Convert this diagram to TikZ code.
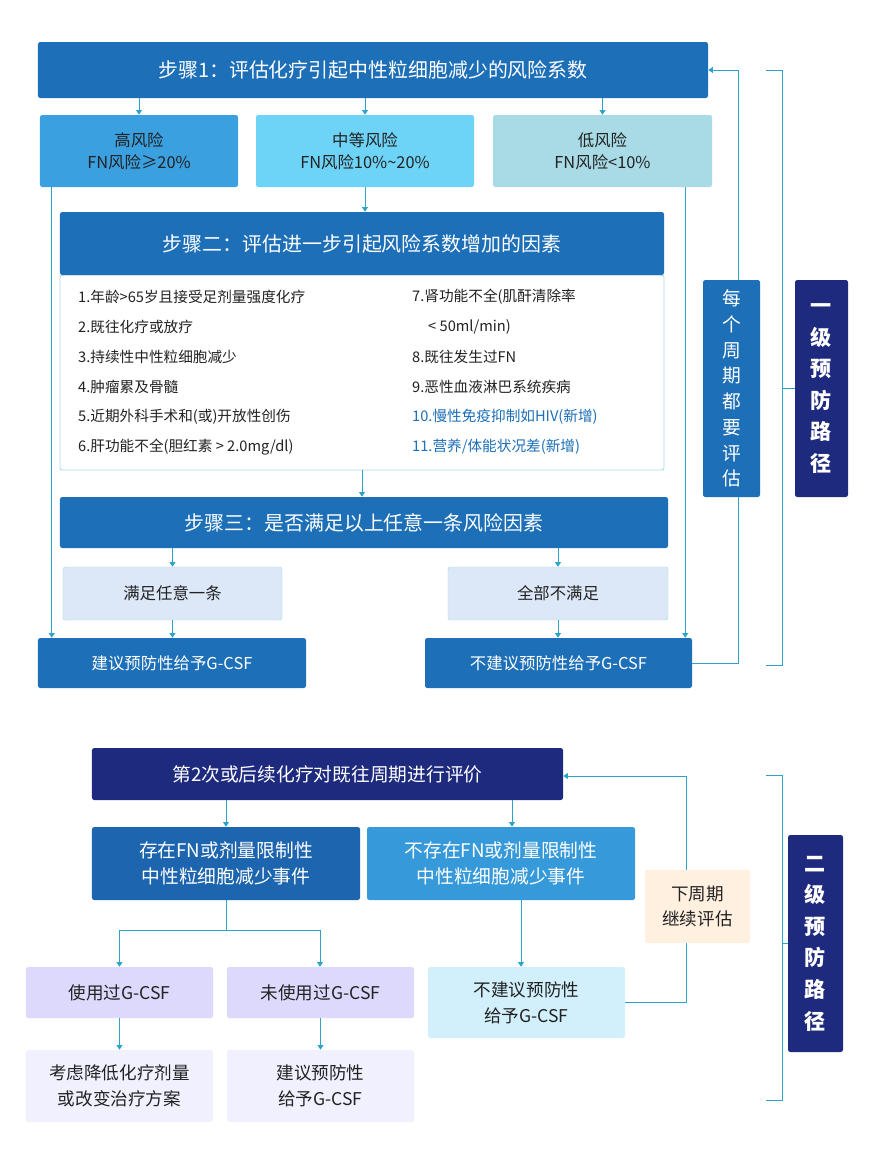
\documentclass[tikz,border=0pt]{standalone}
\usepackage{fontspec}
\setmainfont{Noto Sans CJK SC}
\usetikzlibrary{arrows.meta,positioning}
\definecolor{stepblue}{HTML}{1D6FB8}
\definecolor{highblue}{HTML}{3AA0E0}
\definecolor{midblue}{HTML}{6DD3F7}
\definecolor{lowblue}{HTML}{A8DBE6}
\definecolor{navy}{HTML}{1E2A7E}
\definecolor{linecyan}{HTML}{2AA4C8}
\definecolor{paleblue}{HTML}{DCE8F7}
\definecolor{textblue}{HTML}{1D6FB8}
\definecolor{darktext}{HTML}{222222}
\tikzset{
  box/.style={rounded corners=2pt, inner sep=0pt, align=center},
  darkbox/.style={box, fill=stepblue, text=white},
  arr/.style={draw=linecyan, line width=0.8pt, -{Triangle[width=5pt,length=4pt]}},
  fline/.style={draw=linecyan, line width=0.8pt},
  item/.style={anchor=west, inner sep=0pt, font=\fontsize{12.5pt}{14pt}\selectfont, text=darktext},
}
\begin{document}
\begin{tikzpicture}[x=0.3mm, y=-0.3mm]
  \useasboundingbox[fill=white] (0,0) rectangle (870,1151);

  % First level: step 1 and risk groups
  \node[darkbox, minimum width=201mm, minimum height=16.8mm, font=\fontsize{17pt}{20pt}\selectfont] (step1) at (373,70) {步骤1：评估化疗引起中性粒细胞减少的风险系数};
  \node[box, fill=highblue, text=darktext, minimum width=59.4mm, minimum height=21.6mm, font=\fontsize{14pt}{19pt}\selectfont] (high) at (139,151) {高风险\\FN风险≥20\%};
  \node[box, fill=midblue, text=darktext, minimum width=65.4mm, minimum height=21.6mm, font=\fontsize{14pt}{19pt}\selectfont] (mid) at (365,151) {中等风险\\FN风险10\%\textasciitilde20\%};
  \node[box, fill=lowblue, text=darktext, minimum width=65.7mm, minimum height=21.6mm, font=\fontsize{14pt}{19pt}\selectfont] (low) at (602.5,151) {低风险\\FN风险<10\%};

  % Step 2 with factor list
  \node[box, draw=lowblue, line width=0.8pt, fill=white, minimum width=181.2mm, minimum height=58.5mm] (list) at (362,372.5) {};
  \node[darkbox, minimum width=181.2mm, minimum height=18.9mm, font=\fontsize{17pt}{20pt}\selectfont] (step2) at (362,243.5) {步骤二：评估进一步引起风险系数增加的因素};
  \node[item] (f1) at (78,297) {1.年龄>65岁且接受足剂量强度化疗};
  \node[item] (f2) at (78,327) {2.既往化疗或放疗};
  \node[item] (f3) at (78,357) {3.持续性中性粒细胞减少};
  \node[item] (f4) at (78,387) {4.肿瘤累及骨髓};
  \node[item] (f5) at (78,417) {5.近期外科手术和(或)开放性创伤};
  \node[item] (f6) at (78,447) {6.肝功能不全(胆红素 > 2.0mg/dl)};
  \node[item] (f7) at (412,297) {7.肾功能不全(肌酐清除率};
  \node[item] (f7b) at (428,327) {< 50ml/min)};
  \node[item] (f8) at (412,357) {8.既往发生过FN};
  \node[item] (f9) at (412,387) {9.恶性血液淋巴系统疾病};
  \node[item, text=textblue] (f10) at (412,417) {10.慢性免疫抑制如HIV(新增)};
  \node[item, text=textblue] (f11) at (412,447) {11.营养/体能状况差(新增)};

  % Step 3 and outcome
  \node[darkbox, minimum width=182.4mm, minimum height=15.3mm, font=\fontsize{17pt}{20pt}\selectfont] (step3) at (364,522.5) {步骤三：是否满足以上任意一条风险因素};
  \node[box, draw=lowblue, fill=paleblue, text=darktext, minimum width=65.7mm, minimum height=15.9mm, font=\fontsize{14pt}{17pt}\selectfont] (meet) at (172.5,593.5) {满足任意一条};
  \node[box, draw=lowblue, fill=paleblue, text=darktext, minimum width=66mm, minimum height=15.9mm, font=\fontsize{14pt}{17pt}\selectfont] (nomeet) at (558,593.5) {全部不满足};
  \node[darkbox, minimum width=80.4mm, minimum height=15mm, font=\fontsize{14pt}{17pt}\selectfont] (rec) at (172,663) {建议预防性给予G-CSF};
  \node[darkbox, minimum width=80.1mm, minimum height=15mm, font=\fontsize{14pt}{17pt}\selectfont] (norec) at (558.5,663) {不建议预防性给予G-CSF};

  % Connectors, first level
  \draw[arr] (step1.south -| high.north) -- (high.north);
  \draw[arr] (step1.south -| mid.north) -- (mid.north);
  \draw[arr] (step1.south -| low.north) -- (low.north);
  \draw[arr] (mid.south) -- (mid.south |- step2.north);
  \draw[arr] (list.south -| step2.north) -- (step3.north -| step2.north);
  \draw[arr] (step3.south -| meet.north) -- (meet.north);
  \draw[arr] (step3.south -| nomeet.north) -- (nomeet.north);
  \draw[arr] (meet.south) -- (meet.south |- rec.north);
  \draw[arr] (nomeet.south) -- (nomeet.south |- norec.north);
  \draw[arr] ([xshift=3.6mm]high.south west) -- ([xshift=3.6mm]high.south west |- rec.north);
  \draw[arr] ([xshift=-8.1mm]low.south east) -- ([xshift=-8.1mm]low.south east |- norec.north);
  \draw[arr] (norec.east) -- ++(46,0) |- (step1.east);

  % Side labels, first level
  \node[darkbox, minimum width=17.1mm, minimum height=65.1mm, font=\fontsize{16pt}{22pt}\selectfont] (cycle) at (731.5,388.5) {每\\个\\周\\期\\都\\要\\评\\估};
  \node[box, fill=navy, text=white, minimum width=15.9mm, minimum height=65.1mm, font=\bfseries\fontsize{18pt}{27pt}\selectfont] (level1) at (821.5,388.5) {一\\级\\预\\防\\路\\径};
  \coordinate (b1top) at (766,70);
  \coordinate (b1bot) at (766,665);
  \draw[fline] (b1top) -- ++(16,0) |- (b1bot);
  \draw[fline] (782,388.5) -- (level1.west);

  % Second level
  \node[box, fill=navy, text=white, minimum width=141.3mm, minimum height=15.6mm, font=\fontsize{16pt}{19pt}\selectfont] (again) at (327.5,774) {第2次或后续化疗对既往周期进行评价};
  \node[box, fill=stepblue!85!navy, text=white, minimum width=80.4mm, minimum height=21.9mm, font=\fontsize{16pt}{22pt}\selectfont] (exist) at (226,863.5) {存在FN或剂量限制性\\中性粒细胞减少事件};
  \node[box, fill=highblue!85!stepblue, text=white, minimum width=80.4mm, minimum height=21.9mm, font=\fontsize{16pt}{22pt}\selectfont] (noexist) at (501,863.5) {不存在FN或剂量限制性\\中性粒细胞减少事件};
  \node[box, fill=violet!15!blue!15, text=darktext, minimum width=56.1mm, minimum height=15.3mm, font=\fontsize{15pt}{18pt}\selectfont] (used) at (119.5,992.5) {使用过G-CSF};
  \node[box, fill=violet!15!blue!15, text=darktext, minimum width=56.1mm, minimum height=15.3mm, font=\fontsize{15pt}{18pt}\selectfont] (notused) at (320.5,992.5) {未使用过G-CSF};
  \node[box, fill=cyan!18, text=darktext, minimum width=59.1mm, minimum height=21.3mm, font=\fontsize{15pt}{22pt}\selectfont] (norec2) at (526.5,1002.5) {不建议预防性\\给予G-CSF};
  \node[box, fill=blue!6, text=darktext, minimum width=56.1mm, minimum height=21.6mm, font=\fontsize{15pt}{22pt}\selectfont] (reduce) at (119.5,1086) {考虑降低化疗剂量\\或改变治疗方案};
  \node[box, fill=blue!6, text=darktext, minimum width=56.1mm, minimum height=21.6mm, font=\fontsize{15pt}{22pt}\selectfont] (rec2) at (320.5,1086) {建议预防性\\给予G-CSF};

  % Connectors, second level
  \draw[arr] (again.south -| exist.north) -- (exist.north);
  \draw[arr] ([xshift=3.3mm]again.south -| noexist.north) -- ([xshift=3.3mm]noexist.north);
  \draw[fline] (exist.south) -- ++(0,30) coordinate (split);
  \draw[arr] (split) -| (used.north);
  \draw[arr] (split) -| ([xshift=-0.15mm]notused.north);
  \draw[arr] ([xshift=6mm]noexist.south) -- ([xshift=6mm]noexist.south |- norec2.north);
  \draw[arr] (used.south) -- (reduce.north);
  \draw[arr] (notused.south) -- (rec2.north);
  \draw[arr] (norec2.east) -- ++(61,0) |- ([yshift=-0.3mm]again.east |- 0,775);

  % Side labels, second level
  \node[box, fill=orange!12, text=darktext, minimum width=31.5mm, minimum height=21.9mm, font=\fontsize{15pt}{22pt}\selectfont] (next) at (697.5,906.5) {下周期\\继续评估};
  \node[box, fill=navy, text=white, minimum width=16.5mm, minimum height=65.1mm, font=\bfseries\fontsize{18pt}{27pt}\selectfont] (level2) at (815.5,943.5) {二\\级\\预\\防\\路\\径};
  \coordinate (b2top) at (766,775);
  \coordinate (b2bot) at (766,1100);
  \draw[fline] (b2top) -- ++(16,0) |- (b2bot);
  \draw[fline] (782,943.5) -- (level2.west);
\end{tikzpicture}
\end{document}
